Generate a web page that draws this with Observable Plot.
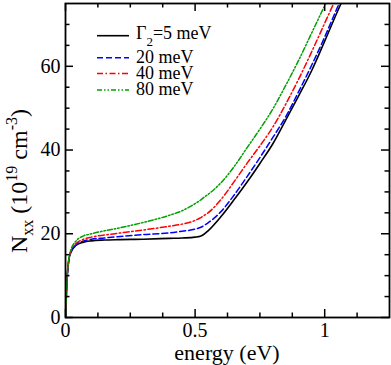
<!DOCTYPE html>
<html>
<head>
<meta charset="utf-8">
<script src="https://cdn.jsdelivr.net/npm/d3@7"></script>
<script src="https://cdn.jsdelivr.net/npm/@observablehq/plot@0.6"></script>
<style>
  html, body { margin: 0; padding: 0; background: #fff; }
  #chart { width: 391px; height: 365px; }
  #chart svg text { font-family: "Liberation Serif", "Times New Roman", serif; }
</style>
</head>
<body>
<div id="chart"></div>
<script>
// ---- data ----
const energy = [0, 0.002, 0.005, 0.01, 0.02, 0.04, 0.07, 0.1, 0.15, 0.2, 0.3, 0.4, 0.45, 0.5, 0.52, 0.53, 0.55, 0.6, 0.65, 0.7, 0.75, 0.8, 0.85, 0.9, 0.95, 1.0, 1.05, 1.1];
const n5  = [0, 3, 8, 12.5, 15.5, 17.2, 18.0, 18.3, 18.5, 18.6, 18.7, 18.9, 19.0, 19.2, 19.4, 19.7, 20.7, 24.1, 28.1, 32.3, 36.8, 41.5, 47.2, 53.0, 59.0, 66.0, 73.2, 80];
const n20 = [0, 3, 7.5, 12, 15.5, 17.3, 18.3, 18.7, 19.0, 19.3, 19.8, 20.2, 20.6, 21.1, 21.5, 21.8, 22.6, 25.3, 29.2, 33.6, 38.2, 43.0, 48.0, 54.0, 60.3, 67.0, 74.2, 81];
const n40 = [0, 3, 7.5, 12, 15.8, 17.6, 18.7, 19.2, 19.7, 20.1, 20.9, 21.8, 22.3, 23.2, 23.8, 24.2, 25.0, 28.2, 32.4, 36.8, 41.0, 45.5, 51.0, 57.0, 63.5, 70.3, 77.0, 83];
const n80 = [0, 3, 8, 12.5, 16.0, 18.2, 19.5, 20.0, 20.7, 21.3, 22.7, 24.4, 25.5, 27.2, 28.0, 28.5, 29.4, 32.2, 36.0, 40.5, 45.0, 49.8, 55.5, 61.5, 68.0, 74.5, 81.0, 87];
const seriesNames = ["5 meV", "20 meV", "40 meV", "80 meV"];
const seriesValues = [n5, n20, n40, n80];
const xMajor = [0, 0.5, 1];
const xMinor = [0.125, 0.25, 0.375, 0.625, 0.75, 0.875, 1.125];
const yMajor = [0, 20, 40, 60];
const yMinor = [5, 10, 15, 25, 30, 35, 45, 50, 55, 65, 70];

// ---- styles ----
const styles = [
  {color: "#000000", dash: null, width: 1.6},
  {color: "#0000ff", dash: "6,3", width: 1.5},
  {color: "#ff0000", dash: "6,2.5,1.5,2.5", width: 1.5},
  {color: "#00a000", dash: "5,2,1.5,2,1.5,2", width: 1.5}
];

const W = 391, H = 365;
const mL = 65, mR = 2, mT = 3, mB = 48;
const innerH = H - mT - mB;
const innerW = W - mL - mR;
const font = "Liberation Serif, Times New Roman, serif";

const rows = [];
seriesValues.forEach((vals, si) => {
  vals.forEach((v, i) => rows.push({series: seriesNames[si], si, energy: energy[i], n: v}));
});

const major = 8, minor = 4.5;
const marks = [];
seriesValues.forEach((vals, si) => {
  const st = styles[si];
  marks.push(Plot.line(rows.filter(r => r.si === si), {
    x: "energy", y: "n", stroke: st.color, strokeWidth: st.width,
    strokeDasharray: st.dash, curve: "monotone-x", clip: true
  }));
});
marks.push(
  Plot.tickX(xMajor, {x: d => d, insetTop: innerH - major, stroke: "black", strokeWidth: 1.5}),
  Plot.tickX(xMajor, {x: d => d, insetBottom: innerH - major, stroke: "black", strokeWidth: 1.5}),
  Plot.tickX(xMinor, {x: d => d, insetTop: innerH - minor, stroke: "black", strokeWidth: 1.5}),
  Plot.tickX(xMinor, {x: d => d, insetBottom: innerH - minor, stroke: "black", strokeWidth: 1.5}),
  Plot.tickY(yMajor, {y: d => d, insetRight: innerW - major, stroke: "black", strokeWidth: 1.5}),
  Plot.tickY(yMajor, {y: d => d, insetLeft: innerW - major, stroke: "black", strokeWidth: 1.5}),
  Plot.tickY(yMinor, {y: d => d, insetRight: innerW - minor, stroke: "black", strokeWidth: 1.5}),
  Plot.tickY(yMinor, {y: d => d, insetLeft: innerW - minor, stroke: "black", strokeWidth: 1.5}),
  Plot.axisX({ticks: xMajor, tickSize: 0, tickPadding: 5, tickFormat: d => String(d), fontSize: 20, fontFamily: font, label: null}),
  Plot.axisY({ticks: yMajor, tickSize: 0, tickPadding: 5, tickFormat: d => String(d), fontSize: 20, fontFamily: font, label: null}),
  Plot.frame({stroke: "black", strokeWidth: 1.8})
);

const plot = Plot.plot({
  width: W, height: H,
  marginLeft: mL, marginRight: mR, marginTop: mT, marginBottom: mB,
  x: {domain: [0, 1.25]},
  y: {domain: [0, 75]},
  style: {fontFamily: font, color: "black", background: "white", overflow: "visible"},
  marks
});
document.getElementById("chart").appendChild(plot);

// ---- axis titles and legend (text with sub/superscripts) ----
const svg = d3.select(plot);
svg.selectAll("text").attr("font-family", font).attr("fill", "black");

svg.append("text")
  .attr("x", 227).attr("y", 360)
  .attr("text-anchor", "middle").attr("font-family", font).attr("font-size", 22).attr("fill", "black")
  .text("energy (eV)");

const yl = svg.append("text")
  .attr("transform", "translate(27,181) rotate(-90)")
  .attr("text-anchor", "middle").attr("font-family", font).attr("font-size", 24).attr("fill", "black");
yl.append("tspan").text("N");
yl.append("tspan").attr("font-size", 16).attr("dy", 6).text("xx");
yl.append("tspan").attr("dy", -6).text(" (10");
yl.append("tspan").attr("font-size", 16).attr("dy", -10).text("19");
yl.append("tspan").attr("dy", 10).text(" cm");
yl.append("tspan").attr("font-size", 16).attr("dy", -10).text("-3");
yl.append("tspan").attr("dy", 10).text(")");

const legendLineY = [35.7, 57.7, 73.5, 90];
const legendTextY = [38.5, 63.3, 79.3, 95];
const g = svg.append("g").attr("text-anchor", "start");
seriesNames.forEach((name, i) => {
  const st = styles[i];
  g.append("line")
    .attr("x1", 97).attr("x2", 129).attr("y1", legendLineY[i]).attr("y2", legendLineY[i])
    .attr("stroke", st.color).attr("stroke-width", st.width)
    .attr("stroke-dasharray", st.dash);
  const t = g.append("text")
    .attr("x", 136).attr("y", legendTextY[i]).attr("text-anchor", "start")
    .attr("font-family", font).attr("font-size", 18).attr("fill", "black");
  if (i === 0) {
    t.append("tspan").text("Γ");
    t.append("tspan").attr("font-size", 13).attr("dy", 7).text("2");
    t.append("tspan").attr("dy", -7).text("=" + name);
  } else {
    t.text(name);
  }
});
</script>
</body>
</html>
